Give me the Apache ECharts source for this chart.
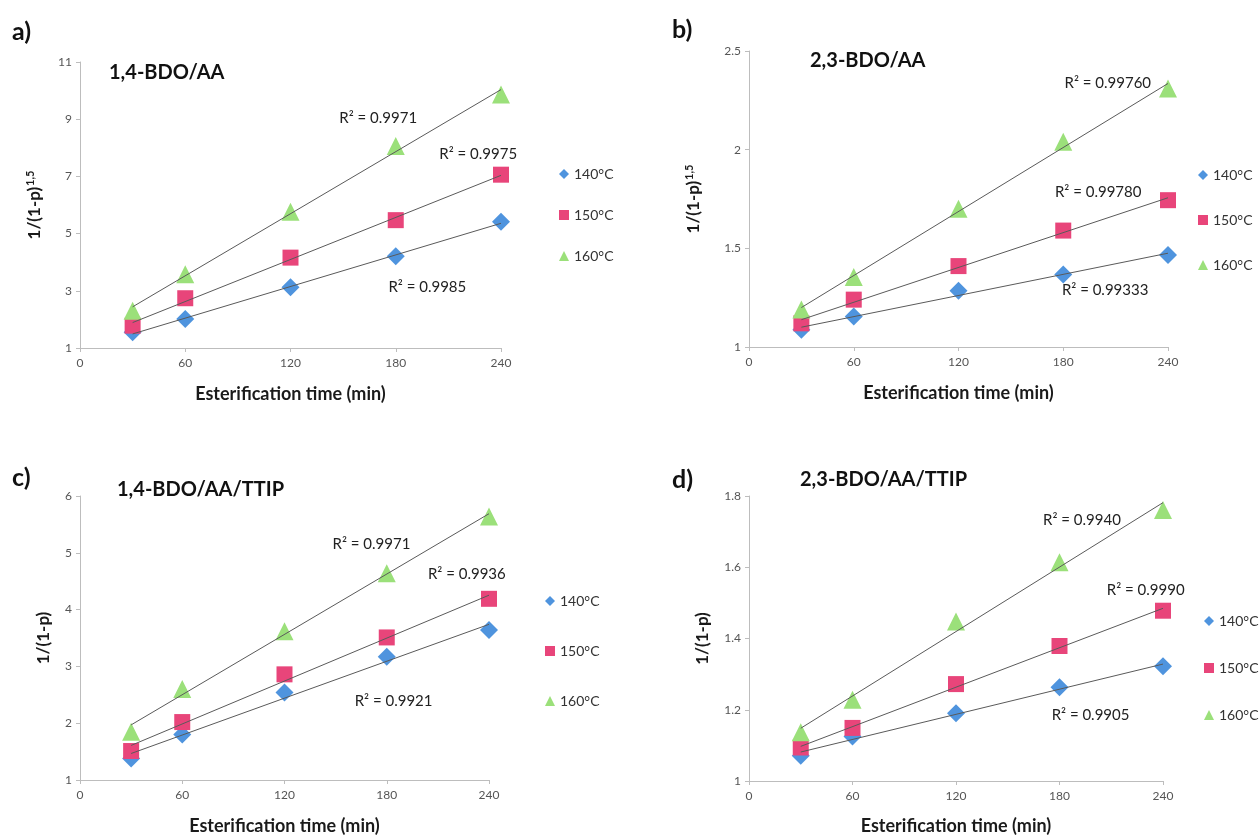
<!DOCTYPE html>
<html>
<head>
<meta charset="utf-8">
<script src="https://cdn.jsdelivr.net/npm/echarts@6/dist/echarts.min.js"></script>
<style>
html,body{margin:0;padding:0;background:#fff;}
#chart{width:1259px;height:836px;}
</style>
</head>
<body>
<div id="chart"></div>
<script>
// ---------- data ----------
const times = [30, 60, 120, 180, 240];
const seriesNames = ['140°C', '150°C', '160°C'];
const xTicks = [0, 60, 120, 180, 240];

const panelLetters = ['a)', 'b)', 'c)', 'd)'];
const panelTitles = ['1,4-BDO/AA', '2,3-BDO/AA', '1,4-BDO/AA/TTIP', '2,3-BDO/AA/TTIP'];
const yNames = ['1/(1-p)^1,5', '1/(1-p)^1,5', '1/(1-p)', '1/(1-p)'];

// panel a: 1,4-BDO/AA
const a140 = [1.55, 2.01, 3.12, 4.21, 5.41];
const a150 = [1.78, 2.74, 4.16, 5.47, 7.06];
const a160 = [2.30, 3.58, 5.76, 8.06, 9.86];
const aR2 = ['0.9985', '0.9975', '0.9971'];

// panel b: 2,3-BDO/AA
const b140 = [1.087, 1.154, 1.285, 1.367, 1.466];
const b150 = [1.12, 1.24, 1.41, 1.59, 1.744];
const b160 = [1.19, 1.355, 1.70, 2.04, 2.31];
const bR2 = ['0.99333', '0.99780', '0.99760'];

// panel c: 1,4-BDO/AA/TTIP
const c140 = [1.38, 1.80, 2.54, 3.17, 3.64];
const c150 = [1.51, 2.02, 2.86, 3.51, 4.19];
const c160 = [1.85, 2.60, 3.62, 4.64, 5.64];
const cR2 = ['0.9921', '0.9936', '0.9971'];

// panel d: 2,3-BDO/AA/TTIP
const d140 = [1.071, 1.125, 1.19, 1.263, 1.322];
const d150 = [1.094, 1.149, 1.272, 1.379, 1.478];
const d160 = [1.137, 1.228, 1.448, 1.614, 1.761];
const dR2 = ['0.9905', '0.9990', '0.9940'];

// y-axis ranges
const yMin = [1, 1, 1, 1];
const yMax = [11, 2.5, 6, 1.8];
const yStep = [2, 0.5, 1, 0.2];

// ---------- layout / style ----------
const panels = [
  { data: [a140, a150, a160], r2: aR2,
    grid: { left: 80, top: 62, width: 421, height: 286 },
    r2Pos: [[198, 3.13], [227, 7.78], [170, 9.04]],
    legend: { left: 554, top: 162, itemGap: 27 },
    titlePos: [7, 14], namePos: [104, 58], yGap: 34, xGap: 37 },
  { data: [b140, b150, b160], r2: bR2,
    grid: { left: 749, top: 51, width: 419, height: 296 },
    r2Pos: [[204, 1.29], [200, 1.785], [205.5, 2.338]],
    legend: { left: 1193, top: 163, itemGap: 31 },
    titlePos: [667, 12], namePos: [805, 46], yGap: 44, xGap: 37 },
  { data: [c140, c150, c160], r2: cR2,
    grid: { left: 80, top: 496, width: 409, height: 286 },
    r2Pos: [[184, 2.38], [227, 4.62], [171, 5.16]],
    legend: { left: 540, top: 589, itemGap: 36 },
    titlePos: [7, 460], namePos: [112, 475], yGap: 28, xGap: 37 },
  { data: [d140, d150, d160], r2: dR2,
    grid: { left: 749, top: 496, width: 414, height: 287 },
    r2Pos: [[198, 1.184], [230, 1.535], [193, 1.733]],
    legend: { left: 1199, top: 609, itemGap: 33 },
    titlePos: [667, 462], namePos: [795, 465], yGap: 38, xGap: 36 }
];

const colors = ['#4F94DE', '#E8457A', '#9BE07A'];
const symbols = ['diamond', 'rect', 'triangle'];
const symSizes = [18, 16, 18];
const font = 'Lato, "Open Sans", sans-serif';

function fit(xs, ys) {
  const n = xs.length;
  const mx = xs.reduce((s, v) => s + v, 0) / n;
  const my = ys.reduce((s, v) => s + v, 0) / n;
  let sxy = 0, sxx = 0;
  for (let i = 0; i < n; i++) { sxy += (xs[i] - mx) * (ys[i] - my); sxx += (xs[i] - mx) ** 2; }
  const k = sxy / sxx;
  return x => my + k * (x - mx);
}

const grids = [], xAxes = [], yAxes = [], series = [], legends = [], titles = [];

panels.forEach((p, pi) => {
  grids.push(p.grid);
  xAxes.push({
    type: 'value', gridIndex: pi, min: xTicks[0], max: xTicks[xTicks.length - 1], interval: 60,
    name: 'Esterification time (min)', nameLocation: 'middle', nameGap: p.xGap,
    nameTextStyle: { fontFamily: font, fontWeight: 'bold', fontSize: 18, color: '#1a1a1a' },
    axisLine: { show: true, lineStyle: { color: '#BDBDBD', width: 1 } },
    axisTick: { show: true, length: 4, lineStyle: { color: '#BDBDBD' } },
    axisLabel: { fontFamily: font, fontSize: 12, color: '#555', margin: 9 },
    splitLine: { show: false }
  });
  const isSup = yNames[pi].indexOf('^') >= 0;
  const base = yNames[pi].split('^')[0];
  const sup = isSup ? yNames[pi].split('^')[1] : '';
  yAxes.push({
    type: 'value', gridIndex: pi, min: yMin[pi], max: yMax[pi], interval: yStep[pi],
    name: isSup ? '{m|' + base + '}{s|' + sup + '}' : base,
    nameLocation: 'middle', nameGap: p.yGap,
    nameTextStyle: {
      fontFamily: font, fontWeight: 'bold', fontSize: 17, color: '#1a1a1a',
      rich: {
        m: { fontFamily: font, fontWeight: 'bold', fontSize: 17, color: '#1a1a1a', lineHeight: 22 },
        s: { fontFamily: font, fontWeight: 'bold', fontSize: 11, color: '#1a1a1a', padding: [0, 0, 10, 1], lineHeight: 22 }
      }
    },
    axisLine: { show: true, lineStyle: { color: '#BDBDBD', width: 1 } },
    axisTick: { show: true, length: 4, lineStyle: { color: '#BDBDBD' } },
    axisLabel: { fontFamily: font, fontSize: 12, color: '#555', margin: 8 },
    splitLine: { show: false }
  });

  p.data.forEach((ys, si) => {
    series.push({
      type: 'scatter', name: seriesNames[si], xAxisIndex: pi, yAxisIndex: pi,
      data: times.map((t, i) => [t, ys[i]]),
      symbol: symbols[si], symbolSize: symSizes[si],
      itemStyle: { color: colors[si], opacity: 1 }, z: 2
    });
    const f = fit(times, ys);
    series.push({
      type: 'line', xAxisIndex: pi, yAxisIndex: pi,
      data: [[times[0], f(times[0])], [times[times.length - 1], f(times[times.length - 1])]],
      symbol: 'none', silent: true, z: 3,
      lineStyle: { color: '#5A5A5A', width: 1 },
      markPoint: {
        symbol: 'circle', symbolSize: 1, itemStyle: { color: 'rgba(0,0,0,0)' },
        data: [{ coord: p.r2Pos[si] }],
        label: {
          show: true, position: 'inside', formatter: 'R² = ' + p.r2[si],
          fontFamily: font, fontSize: 15, color: '#222'
        }
      }
    });
  });

  legends.push({
    orient: 'vertical', left: p.legend.left, top: p.legend.top, itemGap: p.legend.itemGap,
    itemWidth: 10, itemHeight: 10, itemTextGap: 3,
    data: seriesNames.map((n, i) => ({ name: n, icon: symbols[i] })),
    textStyle: { fontFamily: font, fontSize: 14, color: '#333' },
    selectedMode: false
  });

  titles.push({
    text: panelLetters[pi], left: p.titlePos[0], top: p.titlePos[1],
    textStyle: { fontFamily: font, fontWeight: 'bold', fontSize: 25, color: '#111' }
  });
  titles.push({
    text: panelTitles[pi], left: p.namePos[0], top: p.namePos[1],
    textStyle: { fontFamily: font, fontWeight: 'bold', fontSize: 20, color: '#111' }
  });
});

const chart = echarts.init(document.getElementById('chart'), null, { renderer: 'canvas' });
chart.setOption({
  backgroundColor: '#ffffff',
  animation: false,
  title: titles,
  grid: grids,
  xAxis: xAxes,
  yAxis: yAxes,
  legend: legends,
  series: series
});
</script>
</body>
</html>
